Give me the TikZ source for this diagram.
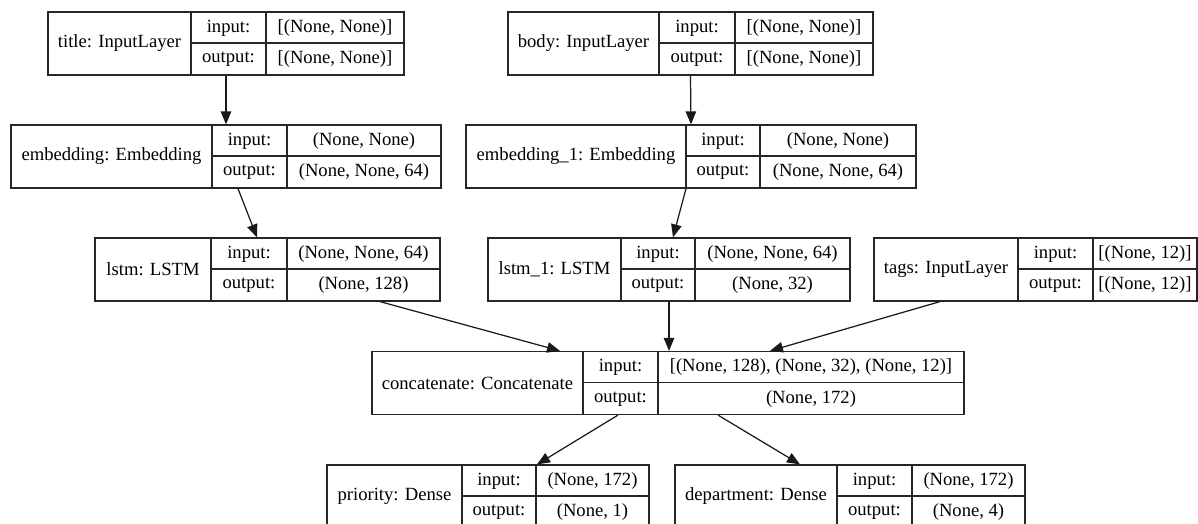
\documentclass[tikz,border=0pt]{standalone}
\usepackage{fontspec}
\setmainfont{Liberation Serif}
\usetikzlibrary{fit,calc,arrows.meta}
\tikzset{
  box/.style={draw=black!85, inner sep=0pt, line width=0.7pt},
  rule/.style={draw=black!85, line width=0.7pt},
  cell/.style={font=\fontsize{10.6}{12}\selectfont, inner sep=0pt},
  conn/.style={draw=black!90, line width=0.7pt, -{Triangle[length=0.26cm,width=0.21cm]}},
}
% name, left, split1, split2, right, top, label, input, output
\newcommand{\layerbox}[9]{%
  \node[box, fit={(#2,#6) (#5,{#6+63})}] (#1) {};
  \draw[rule] (#3,#6) -- (#3,{#6+63});
  \draw[rule] (#4,#6) -- (#4,{#6+63});
  \draw[rule] (#3,{#6+31}) -- (#5,{#6+31});
  \node[cell] at ({(#2+#3)/2},{#6+31.5}) {#7};
  \node[cell] at ({(#3+#4)/2},{#6+16}) {input:};
  \node[cell] at ({(#3+#4)/2},{#6+47.5}) {output:};
  \node[cell] at ({(#4+#5)/2},{#6+16}) {#8};
  \node[cell] at ({(#4+#5)/2},{#6+47.5}) {#9};
}

\begin{document}
\begin{tikzpicture}[x=0.02cm, y=-0.02cm]
  %%%%% START %%%%%
  \clip (0,0) rectangle (1198,524);

  \layerbox{title}{48}{191}{266}{404}{12}{title: InputLayer}{[(None, None)]}{[(None, None)]}
  \layerbox{body}{508}{659}{735}{873}{12}{body: InputLayer}{[(None, None)]}{[(None, None)]}

  \layerbox{emb}{11}{212}{287}{441}{125}{embedding: Embedding}{(None, None)}{(None, None, 64)}
  \layerbox{embone}{466}{686}{760}{916}{125}{embedding\_1: Embedding}{(None, None)}{(None, None, 64)}

  \layerbox{lstm}{95}{211}{287}{440}{238}{lstm: LSTM}{(None, None, 64)}{(None, 128)}
  \layerbox{lstmone}{488}{621}{695}{850}{238}{lstm\_1: LSTM}{(None, None, 64)}{(None, 32)}
  \layerbox{tags}{874}{1018}{1093}{1197}{238}{tags: InputLayer}{[(None, 12)]}{[(None, 12)]}

  \layerbox{concat}{372}{583}{658}{964}{351.5}{concatenate: Concatenate}{[(None, 128), (None, 32), (None, 12)]}{(None, 172)}

  \layerbox{priority}{327}{462}{536}{649}{465}{priority: Dense}{(None, 172)}{(None, 1)}
  \layerbox{dept}{675}{837}{912}{1025}{465}{department: Dense}{(None, 172)}{(None, 4)}

  % edges
  \draw[conn] (title.south) -- (emb.north);
  \draw[conn] (body.south) -- (embone.north);
  \draw[conn] ($(emb.south)+(12,0)$) -- ($(lstm.north)+(-10.5,0)$);
  \draw[conn] ($(embone.south)+(-5,0)$) -- ($(lstmone.north)+(4,0)$);
  \draw[conn] ($(lstm.south)+(112.5,0)$) -- ($(concat.north)+(-108,0)$);
  \draw[conn] (lstmone.south) -- (lstmone.south |- concat.north);
  \draw[conn] ($(tags.south)+(-95.5,0)$) -- ($(concat.north)+(102,0)$);
  \draw[conn] ($(concat.south)+(-50,0)$) -- ($(priority.north)+(49,0)$);
  \draw[conn] ($(concat.south)+(50,0)$) -- ($(dept.north)+(-50,0)$);
  %%%%% END %%%%%
\end{tikzpicture}
\end{document}
